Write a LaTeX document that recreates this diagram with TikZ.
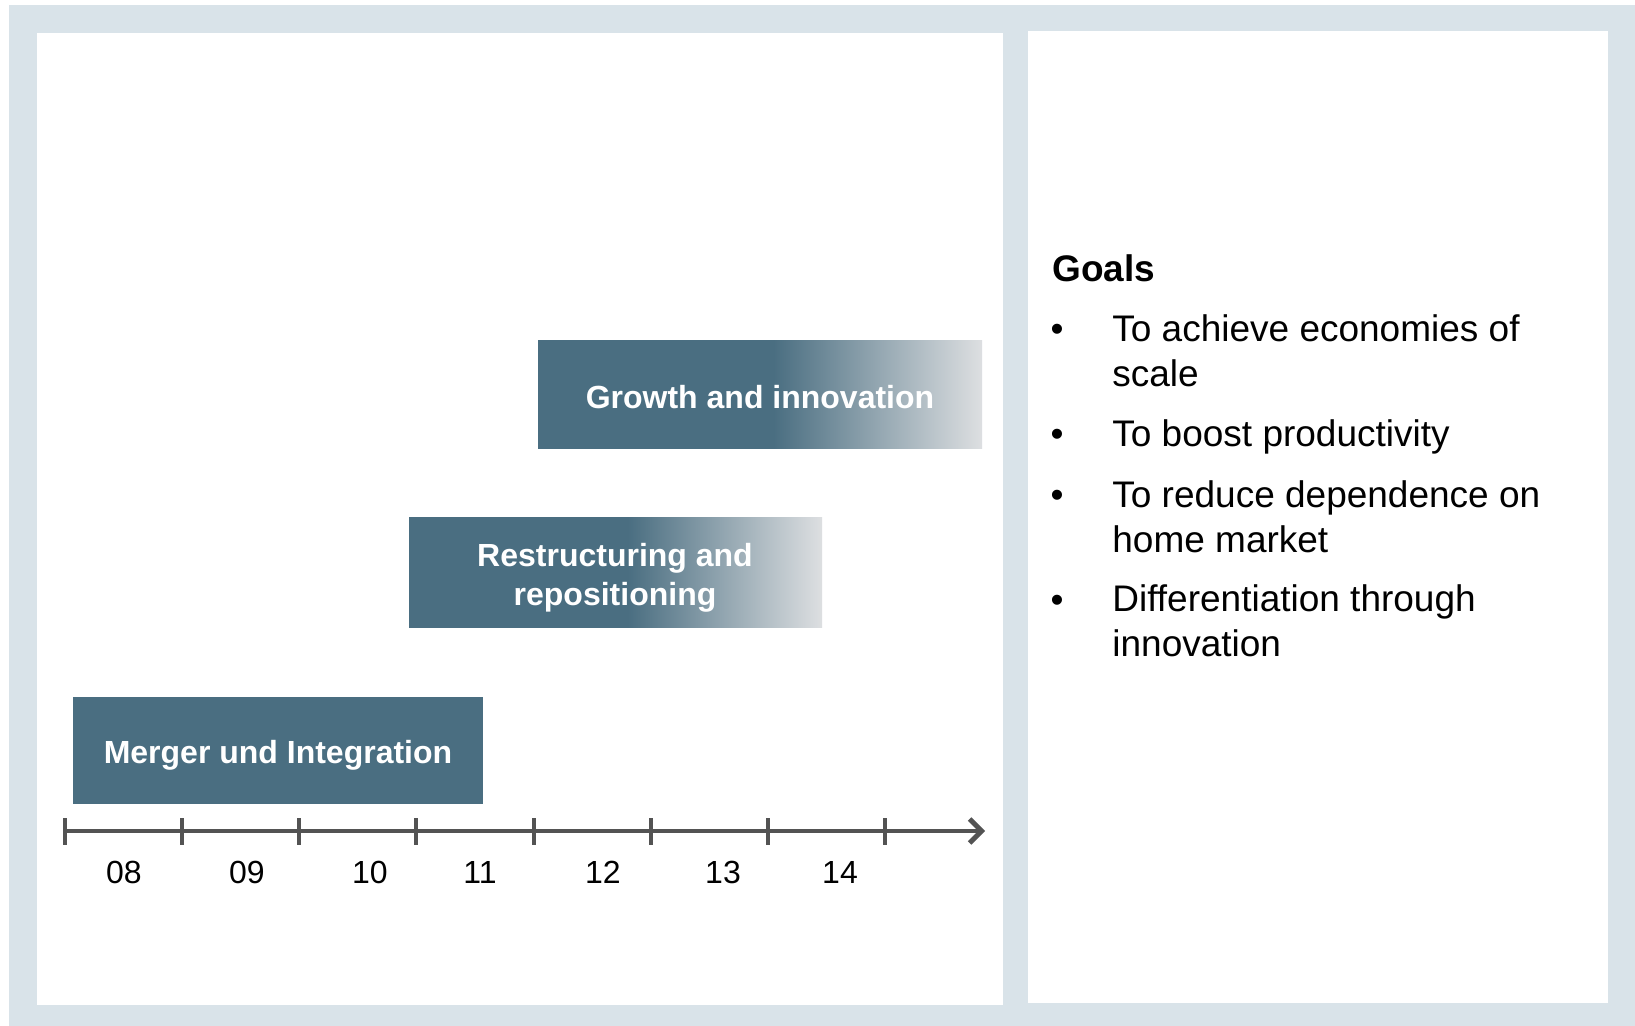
\documentclass[tikz,border=0pt]{standalone}
\usepackage{fontspec}
\setmainfont{Liberation Sans}
\usetikzlibrary{arrows.meta}

\definecolor{panelgray}{RGB}{217,227,233}
\definecolor{phaseblue}{RGB}{74,110,129}
\definecolor{phasefade}{RGB}{221,223,225}
\definecolor{axisgray}{RGB}{83,83,83}

% solid for the first half of the bar, then fading out
\pgfdeclarehorizontalshading{phasefadeout}{100bp}{color(0bp)=(phaseblue); color(25bp)=(phaseblue); color(51.5bp)=(phaseblue); color(75bp)=(phasefade); color(100bp)=(phasefade)}

\tikzset{
	phasetext/.style = {text=white, font=\fontsize{16}{19.3}\selectfont\bfseries, align=center, inner sep=0pt},
	yeartext/.style = {font=\fontsize{16}{19}\selectfont, inner sep=0pt},
	goaltext/.style = {font=\fontsize{18.5}{22.5}\selectfont, align=left, anchor=base west, inner sep=0pt},
	bullet/.style = {font=\fontsize{18.5}{22.5}\selectfont, anchor=base, inner sep=0pt},
	axisline/.style = {draw=axisgray, line width=2.4pt}
}

\begin{document}
\begin{tikzpicture}[x=0.5pt, y=-0.5pt]
	\useasboundingbox (0,0) rectangle (1635,1026);
	% frame and the two panels
	\fill[panelgray] (9,5) rectangle (1635,1026);
	\fill[white] (37,33) rectangle (1003,1005);
	\fill[white] (1028,31) rectangle (1608,1003);

	% phases, the later two fading out to the right
	\fill[phaseblue] (73,697) rectangle (483,804);
	\shade[shading=phasefadeout] (409,518) rectangle (822,628);
	\shade[shading=phasefadeout] (538,341) rectangle (982,449);
	\node[phasetext] (merger) at (278,755) {Merger und Integration};
	\node[phasetext] (restructuring) at (615,578) {Restructuring and\\repositioning};
	\node[phasetext] (growth) at (760,397) {Growth and innovation};

	% time axis
	\path (65,831) coordinate (start) (985,831) coordinate (end);
	\draw[axisline, -{Straight Barb[length=6pt, width=12pt]}] (start) -- (end);
	\foreach \x in {65,182,299,416,534,651,768,885}
		\draw[axisline] (\x,818) -- (\x,845);
	\foreach \x/\yr in {124/08,247/09,370/10,480/11,603/12,723/13,840/14}
		\node[yeartext] (y\yr) at (\x,872) {\yr};

	% goals (multi-line nodes sit on their last baseline)
	\node[goaltext, font=\fontsize{18.5}{22.5}\selectfont\bfseries] (goals) at (1052,282) {Goals};
	\node[bullet] (b1) at (1057,342) {\textbullet};
	\node[goaltext] (g1) at (1112,387) {To achieve economies of\\scale};
	\node[bullet] (b2) at (1057,447) {\textbullet};
	\node[goaltext] (g2) at (1112,447) {To boost productivity};
	\node[bullet] (b3) at (1057,508) {\textbullet};
	\node[goaltext] (g3) at (1112,553) {To reduce dependence on\\home market};
	\node[bullet] (b4) at (1057,613) {\textbullet};
	\node[goaltext] (g4) at (1112,657) {Differentiation through\\innovation};
\end{tikzpicture}
\end{document}
